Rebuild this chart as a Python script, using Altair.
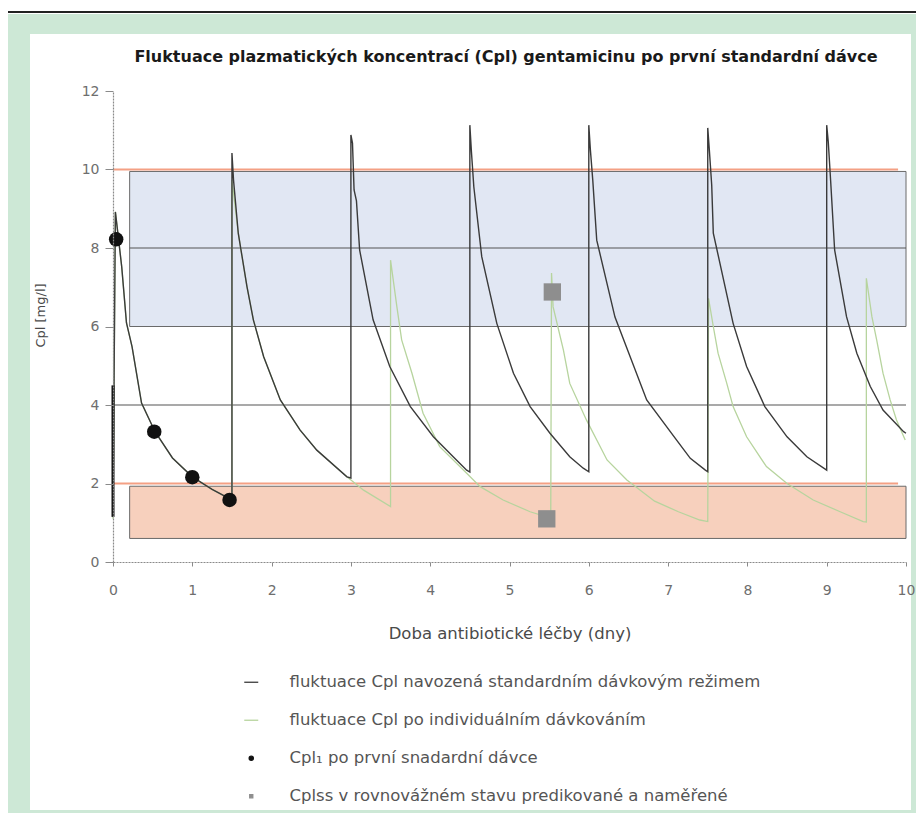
import altair as alt
import pandas as pd

TITLE = "Fluktuace plazmatických koncentrací (Cpl) gentamicinu po první standardní dávce"
X_TITLE = "Doba antibiotické léčby (dny)"
Y_TITLE = "Cpl [mg/l]"
X_TICKS = [0, 1, 2, 3, 4, 5, 6, 7, 8, 9, 10]
Y_TICKS = [0, 2, 4, 6, 8, 10, 12]

SERIES = [
    "fluktuace Cpl navozená standardním dávkovým režimem",
    "fluktuace Cpl po individuálním dávkováním",
    "Cpl\u2081 po první snadardní dávce",
    "Cplss v rovnovážném stavu predikované a naměřené",
]
SERIES_COLORS = ["#3a3a3a", "#b7d49e", "#111111", "#8e8e8e"]

# standard regimen (black) curve
std_x = [0.0, 0.03, 0.06, 0.11, 0.17, 0.24, 0.36, 0.53, 0.75, 1.0, 1.25, 1.5,
         1.5, 1.52, 1.58, 1.69, 1.77, 1.9, 2.11, 2.36, 2.57, 2.95, 3.0,
         3.0, 3.02, 3.04, 3.07, 3.11, 3.28, 3.49, 3.75, 4.04, 4.29, 4.46, 4.5,
         4.5, 4.52, 4.55, 4.65, 4.84, 5.05, 5.26, 5.51, 5.76, 5.93, 6.0,
         6.0, 6.02, 6.05, 6.1, 6.33, 6.73, 7.11, 7.28, 7.47, 7.5,
         7.5, 7.52, 7.55, 7.57, 7.82, 7.99, 8.22, 8.5, 8.75, 9.0,
         9.0, 9.02, 9.05, 9.1, 9.25, 9.38, 9.55, 9.71, 9.97, 10.0]
std_y = [1.15, 8.92, 8.4, 7.52, 6.09, 5.49, 4.05, 3.32, 2.65, 2.17, 1.85, 1.58,
         10.42, 9.73, 8.37, 7.01, 6.17, 5.23, 4.13, 3.36, 2.85, 2.17, 2.14,
         10.88, 10.67, 9.48, 9.2, 7.95, 6.17, 4.98, 3.96, 3.19, 2.68, 2.34, 2.29,
         11.13, 10.45, 9.56, 7.78, 6.08, 4.81, 3.96, 3.28, 2.68, 2.39, 2.3,
         11.13, 10.5, 9.73, 8.2, 6.24, 4.13, 3.1, 2.64, 2.34, 2.3,
         11.06, 10.5, 9.6, 8.38, 6.08, 4.98, 3.96, 3.19, 2.68, 2.34,
         11.13, 10.7, 9.7, 7.95, 6.25, 5.32, 4.47, 3.87, 3.32, 3.28]

# individualised dosing (green) curve
ind_x = [0.0, 0.03, 0.06, 0.11, 0.17, 0.24, 0.36, 0.53, 0.75, 1.0, 1.25, 1.5,
         1.5, 1.58, 1.69, 1.77, 1.9, 2.11, 2.36, 2.57, 2.95, 3.16, 3.5,
         3.5, 3.58, 3.64, 3.77, 3.91, 4.12, 4.46, 4.63, 4.92, 5.26, 5.52,
         5.53, 5.55, 5.68, 5.76, 5.97, 6.23, 6.48, 6.83, 7.13, 7.4, 7.5,
         7.51, 7.57, 7.63, 7.74, 7.82, 7.99, 8.24, 8.5, 8.83, 9.17, 9.46, 9.5,
         9.5, 9.57, 9.63, 9.71, 9.8, 9.88, 9.99]
ind_y = [1.1, 8.92, 8.4, 7.52, 6.09, 5.49, 4.05, 3.32, 2.65, 2.17, 1.85, 1.58,
         9.73, 8.37, 7.01, 6.17, 5.23, 4.13, 3.36, 2.85, 2.17, 1.83, 1.41,
         7.69, 6.5, 5.66, 4.81, 3.79, 2.94, 2.26, 1.92, 1.58, 1.28, 1.12,
         7.36, 6.5, 5.4, 4.55, 3.62, 2.6, 2.09, 1.55, 1.28, 1.07, 1.03,
         6.72, 6.0, 5.32, 4.55, 3.96, 3.19, 2.43, 2.0, 1.58, 1.28, 1.03, 1.02,
         7.23, 6.25, 5.66, 4.81, 4.13, 3.62, 3.11]

# first-dose bolus segment at t = 0
bolus_y = [1.15, 4.5]

# Cpl1 after the first standard dose (black dots)
cpl1_x = [0.04, 0.52, 1.0, 1.47]
cpl1_y = [8.22, 3.32, 2.16, 1.58]

# Cplss predicted / measured (grey squares)
cplss_x = [5.54, 5.47]
cplss_y = [6.88, 1.1]

# target zones
peak_zone = {"x0": [0.21], "x1": [10.0], "y0": [6.0], "y1": [9.95]}
trough_zone = {"x0": [0.21], "x1": [10.0], "y0": [0.6], "y1": [1.93]}
grey_lines = {"y": [8, 4], "x0": [0.21, 0.0], "x1": [10.0, 10.0]}
limit_lines = {"y": [10, 2], "x0": [0.0, 0.0], "x1": [9.9, 9.9]}

FONT = "DejaVu Sans"
W, H = 793, 471

xs = alt.Scale(domain=[0, 10], nice=False)
ys = alt.Scale(domain=[0, 12], nice=False)

x_axis = alt.Axis(values=X_TICKS, title=X_TITLE, grid=False, tickSize=4, format="d",
                  labelFlush=False, labelPadding=17, titleY=71, titleBaseline="middle",
                  labelFontSize=14, titleFontSize=16.5, zindex=2)
y_axis = alt.Axis(values=Y_TICKS, title=Y_TITLE, grid=False, tickSize=8, format="d",
                  labelFlush=False, labelPadding=6, titleX=-73, titleY=224, titleAngle=270,
                  titleAlign="center", titleBaseline="middle",
                  labelFontSize=14, titleFontSize=13, zindex=2)

deco = pd.DataFrame({"k": [0]})
green_bg = alt.Chart(deco).mark_rect(color="#cde8d6").encode(
    x=alt.value(-105), x2=alt.value(803), y=alt.value(-77), y2=alt.value(722))
white_panel = alt.Chart(deco).mark_rect(color="#ffffff").encode(
    x=alt.value(-83), x2=alt.value(798), y=alt.value(-57), y2=alt.value(719))
top_rule = alt.Chart(deco).mark_rect(color="#222222").encode(
    x=alt.value(-105), x2=alt.value(803), y=alt.value(-80), y2=alt.value(-78))
title_text = alt.Chart(pd.DataFrame({"t": [TITLE]})).mark_text(
    font=FONT, fontSize=16, fontWeight="bold", color="#1a1a1a",
    align="center", baseline="middle").encode(
    x=alt.value(393), y=alt.value(-34), text="t:N")

peak_rect = alt.Chart(pd.DataFrame(peak_zone)).mark_rect(
    fill="#e1e7f3", stroke="#6a6a6a", strokeWidth=1).encode(
    x=alt.X("x0:Q", scale=xs, axis=x_axis), x2="x1:Q",
    y=alt.Y("y0:Q", scale=ys, axis=y_axis), y2="y1:Q")
trough_rect = alt.Chart(pd.DataFrame(trough_zone)).mark_rect(
    fill="#f7d0bd", stroke="#6a6a6a", strokeWidth=1).encode(
    x=alt.X("x0:Q", scale=xs), x2="x1:Q",
    y=alt.Y("y0:Q", scale=ys), y2="y1:Q")
grey_rules = alt.Chart(pd.DataFrame(grey_lines)).mark_rule(
    color="#555555", strokeWidth=1.2).encode(
    x=alt.X("x0:Q", scale=xs), x2="x1:Q", y=alt.Y("y:Q", scale=ys))
limit_rules = alt.Chart(pd.DataFrame(limit_lines)).mark_rule(
    color="#f4a084", strokeWidth=2).encode(
    x=alt.X("x0:Q", scale=xs), x2="x1:Q", y=alt.Y("y:Q", scale=ys))

ind_df = pd.DataFrame({"x": ind_x, "y": ind_y, "i": range(len(ind_x))})
std_df = pd.DataFrame({"x": std_x, "y": std_y, "i": range(len(std_x))})

ind_line = alt.Chart(ind_df).mark_line(color=SERIES_COLORS[1], strokeWidth=1.3).encode(
    x=alt.X("x:Q", scale=xs), y=alt.Y("y:Q", scale=ys), order="i:Q")
std_line = alt.Chart(std_df).mark_line(color=SERIES_COLORS[0], strokeWidth=1.4).encode(
    x=alt.X("x:Q", scale=xs), y=alt.Y("y:Q", scale=ys), order="i:Q")
bolus = alt.Chart(pd.DataFrame({"x": [0.0], "y0": [bolus_y[0]], "y1": [bolus_y[1]]})).mark_rule(
    color="#111111", strokeWidth=3).encode(
    x=alt.X("x:Q", scale=xs), y=alt.Y("y0:Q", scale=ys), y2="y1:Q")

dots = alt.Chart(pd.DataFrame({"x": cpl1_x, "y": cpl1_y})).mark_circle(
    size=210, color=SERIES_COLORS[2], opacity=1).encode(
    x=alt.X("x:Q", scale=xs), y=alt.Y("y:Q", scale=ys))
squares = alt.Chart(pd.DataFrame({"x": cplss_x, "y": cplss_y})).mark_square(
    size=300, color=SERIES_COLORS[3], opacity=1).encode(
    x=alt.X("x:Q", scale=xs), y=alt.Y("y:Q", scale=ys))

SHAPES = ["M-1,0H1", "M-1,0H1",
          "M0.3,0A0.3,0.3 0 1,1 -0.3,0A0.3,0.3 0 1,1 0.3,0Z",
          "M-0.22,-0.22H0.22V0.22H-0.22Z"]
leg = alt.Legend(title=None, orient="none", legendX=130, legendY=583,
                 labelFontSize=16.5, labelColor="#555555", labelFont=FONT,
                 labelLimit=0, symbolSize=196, symbolStrokeWidth=1.3,
                 labelOffset=30, rowPadding=21, padding=0, symbolOpacity=1)
legend_df = pd.DataFrame({"series": SERIES, "x": [-5.0] * 4, "y": [-5.0] * 4})
legend_layer = alt.Chart(legend_df).mark_point(filled=True, clip=True, opacity=1).encode(
    x=alt.X("x:Q", scale=xs), y=alt.Y("y:Q", scale=ys),
    fill=alt.Fill("series:N", scale=alt.Scale(domain=SERIES, range=SERIES_COLORS), legend=leg),
    stroke=alt.Stroke("series:N", scale=alt.Scale(domain=SERIES, range=SERIES_COLORS), legend=leg),
    shape=alt.Shape("series:N", scale=alt.Scale(domain=SERIES, range=SHAPES), legend=leg),
)

chart = alt.layer(
    green_bg, white_panel, top_rule, title_text,
    peak_rect, trough_rect, grey_rules, limit_rules,
    ind_line, std_line, bolus, dots, squares, legend_layer,
).properties(
    width=W, height=H,
    autosize=alt.AutoSizeParams(type="none"),
    padding={"left": 105, "top": 83, "right": 10, "bottom": 251},
    background="#ffffff",
).configure_view(stroke=None).configure_axis(
    labelFont=FONT, titleFont=FONT, labelColor="#6e6e6e", titleColor="#4a4a4a",
    titleFontWeight="normal", domainColor="#8a8a8a", tickColor="#8a8a8a",
    domainDash=[2, 1], domainWidth=1.2,
)

chart.save("out.html", embed_options={"renderer": "svg", "actions": False})
